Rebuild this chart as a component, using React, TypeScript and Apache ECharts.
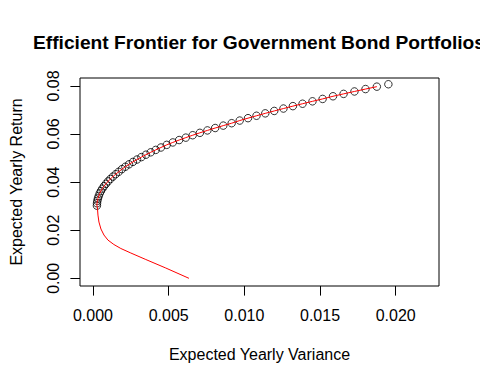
import React, { useEffect, useRef } from "react";
import * as echarts from "echarts";

const titleText = "Efficient Frontier for Government Bond Portfolios";
const xAxisTitle = "Expected Yearly Variance";
const yAxisTitle = "Expected Yearly Return";

const xTicks = [0, 0.005, 0.01, 0.015, 0.02];
const yTicks = [0, 0.02, 0.04, 0.06, 0.08];

// Frontier portfolios (circles)
const frontierReturn = [
  0.0302, 0.0312, 0.0322, 0.0332, 0.0342, 0.0353, 0.0363, 0.0373, 0.0383, 0.0393,
  0.0403, 0.0413, 0.0423, 0.0433, 0.0443, 0.0454, 0.0464, 0.0474, 0.0484, 0.0494,
  0.0504, 0.0514, 0.0524, 0.0534, 0.0544, 0.0555, 0.0565, 0.0575, 0.0585, 0.0595,
  0.0605, 0.0615, 0.0625, 0.0635, 0.0645, 0.0656, 0.0666, 0.0676, 0.0686, 0.0696,
  0.0706, 0.0716, 0.0726, 0.0736, 0.0746, 0.0757, 0.0767, 0.0777, 0.0787, 0.0797,
  0.0807,
];
const frontierVariance = [
  0.00026, 0.000267, 0.000289, 0.000326, 0.000378, 0.000444, 0.000524, 0.00062, 0.00073, 0.000855,
  0.000995, 0.001149, 0.001318, 0.001501, 0.0017, 0.001913, 0.00214, 0.002383, 0.00264, 0.002912,
  0.003198, 0.003499, 0.003815, 0.004146, 0.004491, 0.004873, 0.005273, 0.005693, 0.006131, 0.006587,
  0.007063, 0.007559, 0.008073, 0.008608, 0.009163, 0.009695, 0.010242, 0.010804, 0.011382, 0.011975,
  0.012583, 0.013207, 0.013846, 0.014501, 0.015171, 0.015857, 0.016557, 0.017274, 0.018005, 0.018753,
  0.019515,
];

// Theoretical curve, lower (inefficient) branch
const lowerVariance = [
  0.00634, 0.00481, 0.00349, 0.0025, 0.00184, 0.00138, 0.000988, 0.000725, 0.000527, 0.000395,
  0.00033, 0.000296,
];
const lowerReturn = [
  0.0, 0.00428, 0.00782, 0.01052, 0.0124, 0.01406, 0.0159, 0.018, 0.0205, 0.0234,
  0.0263, 0.02925,
];

const FONT = "'Liberation Sans', Arial, Helvetica, sans-serif";

export default function App() {
  const ref = useRef<HTMLDivElement>(null);
  useEffect(() => {
    if (!ref.current) return;
    const chart = echarts.init(ref.current, null, { renderer: "svg" });
    const circles = frontierVariance.map((v, i) => [v, frontierReturn[i]]);
    const curve = [
      ...lowerVariance.map((v, i) => [v, lowerReturn[i]]),
      ...frontierVariance.slice(0, frontierVariance.length - 1).map((v, i) => [v, frontierReturn[i]]),
    ];
    chart.setOption({
      animation: false,
      backgroundColor: "#ffffff",
      textStyle: { fontFamily: FONT },
      grid: {
        left: 79,
        right: 41,
        top: 78,
        bottom: 98,
        show: true,
        borderColor: "#000",
        borderWidth: 1,
        backgroundColor: "transparent",
      },
      graphic: [
        {
          type: "text",
          x: 259,
          y: 42,
          style: {
            text: titleText,
            font: `bold 19.2px ${FONT}`,
            fill: "#000",
            textAlign: "center",
            textVerticalAlign: "middle",
          },
        },
      ],
      xAxis: {
        type: "value",
        min: -0.000857,
        max: 0.02286,
        name: xAxisTitle,
        nameLocation: "middle",
        nameGap: 60,
        nameTextStyle: { fontSize: 16, color: "#000", fontFamily: FONT },
        axisLine: { show: false, onZero: false },
        splitLine: { show: false },
        axisTick: {
          show: true,
          length: 9.6,
          inside: false,
          lineStyle: { color: "#000", width: 1 },
          customValues: xTicks,
        },
        axisLabel: {
          show: true,
          fontSize: 16,
          color: "#000",
          margin: 21,
          fontFamily: FONT,
          customValues: xTicks,
          formatter: (v: number) => v.toFixed(3),
        },
      },
      yAxis: {
        type: "value",
        min: -0.0032,
        max: 0.0833,
        name: yAxisTitle,
        nameLocation: "middle",
        nameGap: 56,
        nameTextStyle: { fontSize: 16, color: "#000", fontFamily: FONT },
        axisLine: { show: false, onZero: false },
        splitLine: { show: false },
        axisTick: {
          show: true,
          length: 9.6,
          inside: false,
          lineStyle: { color: "#000", width: 1 },
          customValues: yTicks,
        },
        axisLabel: {
          show: true,
          rotate: 90,
          fontSize: 16,
          color: "#000",
          margin: 19,
          fontFamily: FONT,
          customValues: yTicks,
          formatter: (v: number) => v.toFixed(2),
        },
      },
      series: [
        {
          type: "scatter",
          data: circles,
          symbol: "circle",
          symbolSize: 7.5,
          itemStyle: { color: "rgba(0,0,0,0)", borderColor: "#000", borderWidth: 1 },
          z: 2,
        },
        {
          type: "line",
          data: curve,
          showSymbol: false,
          symbol: "none",
          lineStyle: { color: "#ff0000", width: 1 },
          z: 3,
        },
      ],
    });
    return () => chart.dispose();
  }, []);
  return (
    <div
      ref={ref}
      style={{ position: "fixed", left: 0, top: 0, width: 480, height: 384 }}
    />
  );
}
